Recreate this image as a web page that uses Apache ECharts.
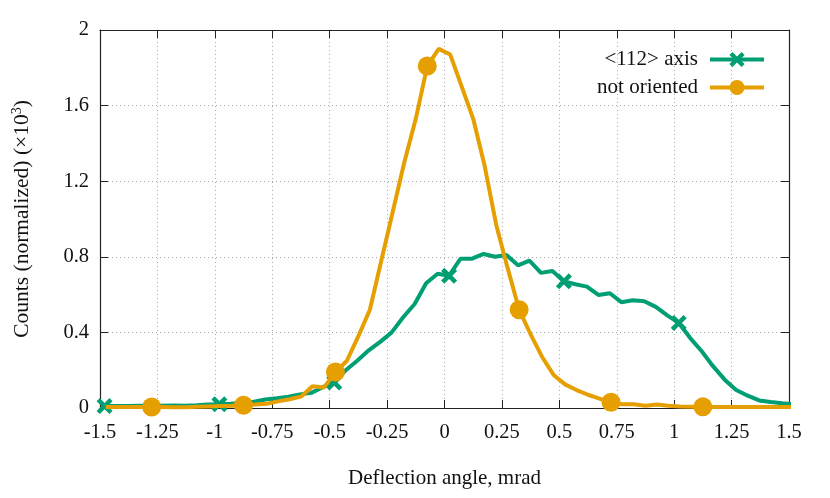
<!DOCTYPE html>
<html>
<head>
<meta charset="utf-8">
<script src="https://cdn.jsdelivr.net/npm/echarts@6/dist/echarts.min.js"></script>
<style>
html, body { margin: 0; padding: 0; background: #fff; }
#main { width: 830px; height: 498px; }
</style>
</head>
<body>
<div id="main"></div>
<script>
// <112> axis : x starts at -1.48, step 0.05
var axisStart = -1.48;
var axisVals = [
    0.010, 0.010, 0.010, 0.012, 0.012, 0.012, 0.013, 0.012, 0.014, 0.018,
    0.020, 0.022, 0.028, 0.033, 0.045, 0.052, 0.060, 0.072, 0.080, 0.110,
    0.135, 0.200, 0.250, 0.305, 0.350, 0.400, 0.480, 0.550, 0.660, 0.710,
    0.700, 0.790, 0.790, 0.815, 0.800, 0.810, 0.755, 0.780, 0.715, 0.725,
    0.670, 0.655, 0.642, 0.598, 0.607, 0.560, 0.570, 0.565, 0.535, 0.490,
    0.450, 0.370, 0.300, 0.220, 0.150, 0.095, 0.065, 0.040, 0.032, 0.025,
    0.020
];
// not oriented : x starts at -1.475, step 0.05
var notStart = -1.475;
var notVals = [
    0.005, 0.005, 0.005, 0.005, 0.005, 0.005, 0.004, 0.004, 0.006, 0.008,
    0.010, 0.012, 0.015, 0.018, 0.022, 0.035, 0.046, 0.060, 0.115, 0.108,
    0.190, 0.250, 0.380, 0.520, 0.780, 1.040, 1.300, 1.530, 1.810, 1.900,
    1.870, 1.700, 1.530, 1.280, 0.970, 0.740, 0.520, 0.390, 0.270, 0.175,
    0.125, 0.095, 0.070, 0.050, 0.030, 0.020, 0.020, 0.012, 0.018, 0.012,
    0.008, 0.006, 0.006, 0.005, 0.005, 0.005, 0.005, 0.005, 0.005, 0.005,
    0.005
];
var step = 0.05;

var green = '#009e73';
var orange = '#e69f00';
var serif = 'Liberation Serif';
var xMark = 'path://M2,0 L5,3 L8,0 L10,2 L7,5 L10,8 L8,10 L5,7 L2,10 L0,8 L3,5 L0,2 Z';

function pairs(start, vals) {
    var out = [];
    for (var i = 0; i < vals.length; i++) {
        out.push([+(start + i * step).toFixed(3), vals[i]]);
    }
    return out;
}

var myChart = echarts.init(document.getElementById('main'));

var tickStyle = { show: true, inside: true, length: 8, lineStyle: { color: '#222', width: 1 } };
var lineStyle = { show: true, onZero: false, lineStyle: { color: '#222', width: 1.2 } };
var gridLine = { show: true, lineStyle: { color: '#aaa', type: [1, 3], width: 1 } };

option = {
    animation: false,
    grid: { left: 100, right: 41, top: 30, bottom: 90 },
    legend: {
        orient: 'vertical',
        right: 59,
        top: 44,
        align: 'right',
        itemWidth: 54,
        itemHeight: 19,
        itemGap: 7,
        lineStyle: { width: 4 },
        textStyle: { fontFamily: serif, fontSize: 21, color: '#111', padding: [0, 7, 0, 0] },
        data: ['<112> axis', 'not oriented']
    },
    xAxis: [{
        type: 'value',
        min: -1.5,
        max: 1.5,
        interval: 0.25,
        name: 'Deflection angle, mrad',
        nameLocation: 'middle',
        nameGap: 60,
        nameTextStyle: { fontFamily: serif, fontSize: 21, color: '#111' },
        axisLine: lineStyle,
        axisTick: tickStyle,
        axisLabel: { fontFamily: serif, fontSize: 20.5, color: '#111', margin: 14 },
        splitLine: gridLine
    }, {
        type: 'value',
        position: 'top',
        min: -1.5,
        max: 1.5,
        interval: 0.25,
        axisLine: lineStyle,
        axisTick: tickStyle,
        axisLabel: { show: false },
        splitLine: { show: false }
    }],
    yAxis: [{
        type: 'value',
        min: 0,
        max: 2,
        interval: 0.4,
        name: 'Counts (normalized) (×10{sup|3})',
        nameLocation: 'middle',
        nameGap: 66,
        nameTextStyle: {
            fontFamily: serif, fontSize: 21.5, color: '#111',
            rich: { sup: { fontFamily: serif, fontSize: 14, verticalAlign: 'top', padding: [0, 0, 10, 0] } }
        },
        axisLine: lineStyle,
        axisTick: tickStyle,
        axisLabel: { fontFamily: serif, fontSize: 20.5, color: '#111', margin: 11 },
        splitLine: gridLine
    }, {
        type: 'value',
        position: 'right',
        min: 0,
        max: 2,
        interval: 0.4,
        axisLine: lineStyle,
        axisTick: tickStyle,
        axisLabel: { show: false },
        splitLine: { show: false }
    }],
    series: [{
        name: '<112> axis',
        type: 'line',
        data: pairs(axisStart, axisVals),
        showAllSymbol: true,
        symbol: xMark,
        symbolSize: function (v, p) { return p.dataIndex % 10 === 0 ? 16 : 0; },
        lineStyle: { color: green, width: 4 },
        itemStyle: { color: green },
        z: 3
    }, {
        name: 'not oriented',
        type: 'line',
        data: pairs(notStart, notVals),
        showAllSymbol: true,
        symbol: 'circle',
        symbolSize: function (v, p) { return (p.dataIndex - 4) % 8 === 0 ? 19 : 0; },
        lineStyle: { color: orange, width: 4 },
        itemStyle: { color: orange },
        z: 4
    }]
};

myChart.setOption(option);
</script>
</body>
</html>
